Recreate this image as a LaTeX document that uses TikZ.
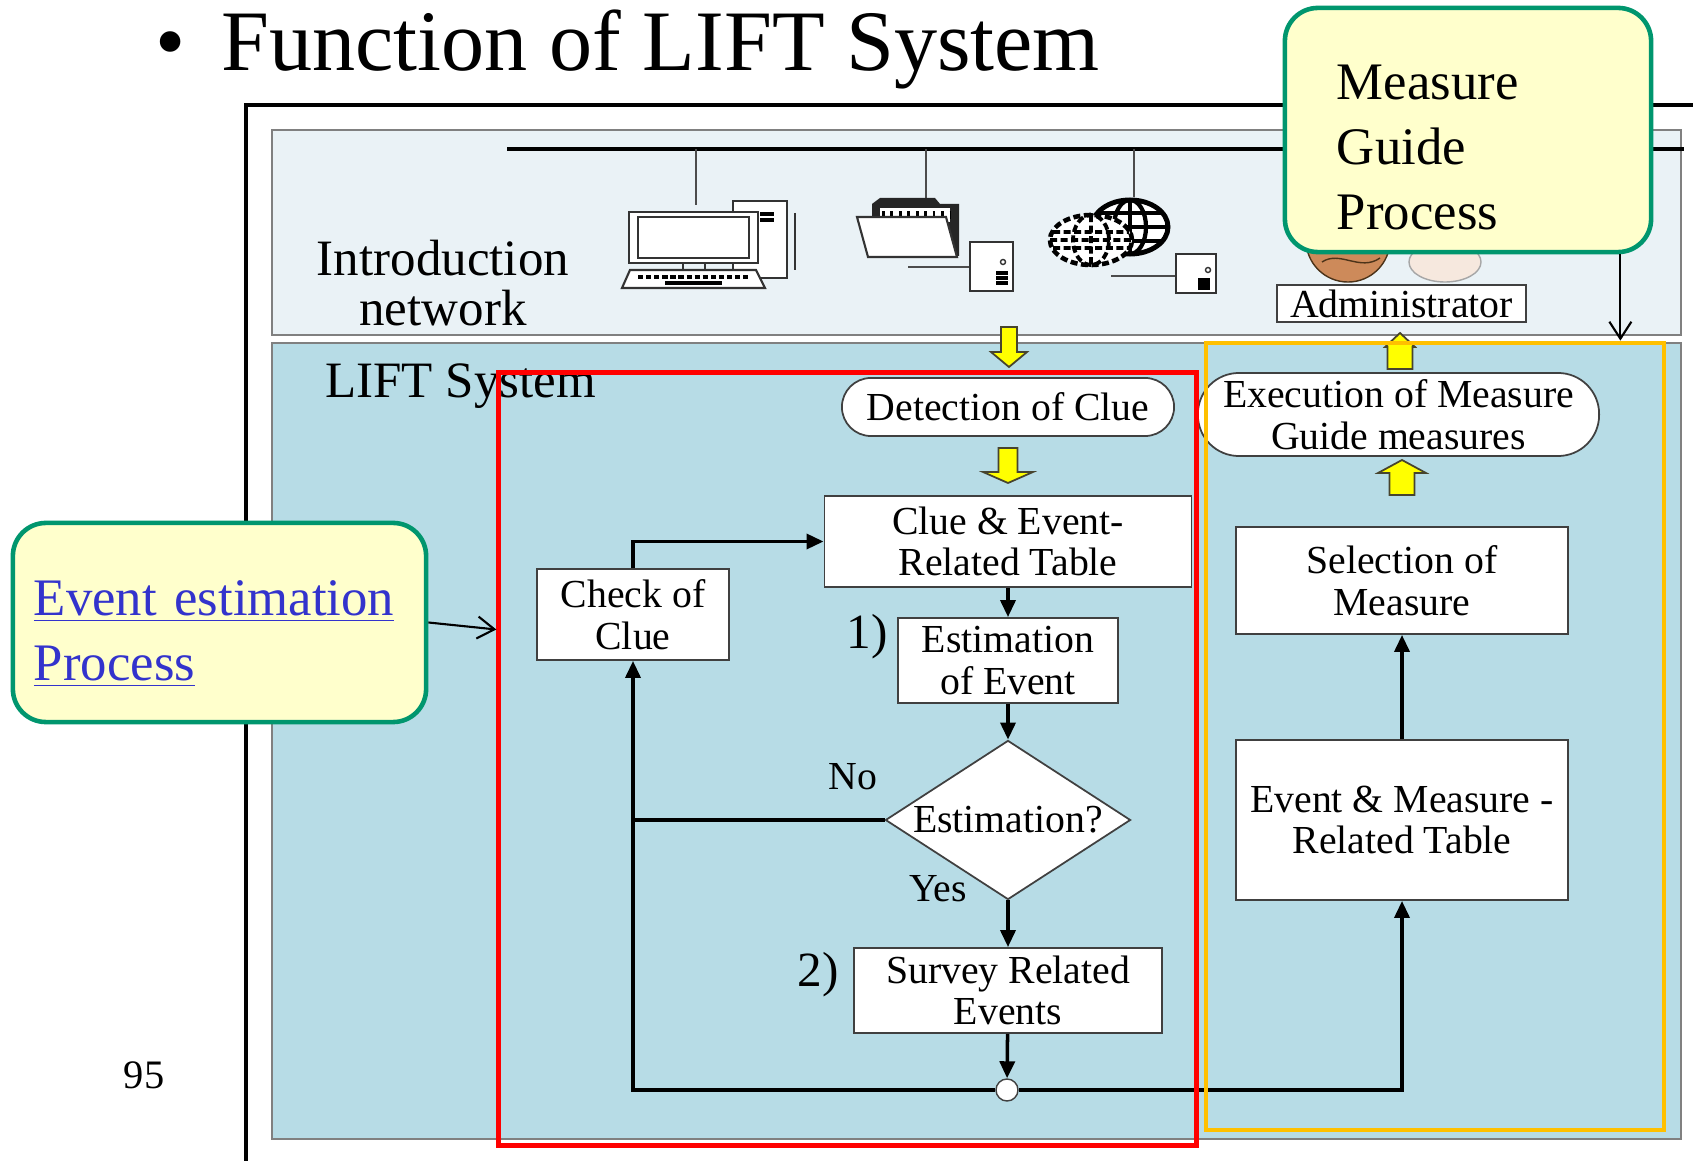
\documentclass[tikz,border=0pt]{standalone}
\usepackage{fontspec}
\setmainfont{Liberation Serif}
\usetikzlibrary{shapes.geometric,arrows.meta,positioning}

\definecolor{netpanel}{RGB}{234,242,246}
\definecolor{liftpanel}{RGB}{183,220,230}
\definecolor{notefill}{RGB}{255,255,204}
\definecolor{noteedge}{RGB}{0,150,110}
\definecolor{linkblue}{RGB}{51,51,204}
\definecolor{frameorange}{RGB}{255,192,0}
\definecolor{blockyellow}{RGB}{255,255,0}
\definecolor{skin}{RGB}{205,138,90}
\definecolor{paleskin}{RGB}{246,232,222}

\newcommand{\boxfont}{\fontsize{11.3}{11.8}\selectfont}
\newcommand{\labelfont}{\fontsize{14.5}{14.3}\selectfont}

% yellow block arrows: x, top, bottom, shaft half width, head half width, head length
\newcommand{\yellowdown}[6]{%
  \draw[blockarrow] ({#1-#4},#2) -- ({#1+#4},#2) -- ({#1+#4},{#3-#6}) -- ({#1+#5},{#3-#6})
    -- (#1,#3) -- ({#1-#5},{#3-#6}) -- ({#1-#4},{#3-#6}) -- cycle;}
\newcommand{\yellowup}[6]{%
  \draw[blockarrow] (#1,#2) -- ({#1+#5},{#2+#6}) -- ({#1+#4},{#2+#6}) -- ({#1+#4},#3)
    -- ({#1-#4},#3) -- ({#1-#4},{#2+#6}) -- ({#1-#5},{#2+#6}) -- cycle;}

\begin{document}
\begin{tikzpicture}[x=0.01cm,y=-0.01cm,
    flowbox/.style={draw=black!75, fill=white, line width=0.5pt, align=center, inner sep=0pt, font=\boxfont},
    note/.style={draw=noteedge, fill=notefill, line width=1.3pt, rounded corners=0.33cm, align=left,
      inner sep=0pt, font=\fontsize{15}{18.5}\selectfont},
    flow/.style={line width=1pt, -{Triangle[length=0.17cm,width=0.15cm]}},
    link/.style={line width=1pt},
    pointer/.style={line width=0.6pt, -{Straight Barb[length=0.17cm,width=0.22cm]}},
    blockarrow/.style={draw=black!65!olive, fill=blockyellow, line width=0.5pt},
    icon/.style={draw=black!80, fill=white, line width=0.6pt},
    panel/.style={draw=black!50, line width=0.8pt}]
\useasboundingbox[fill=white] (0,0) rectangle (1693,1161);

\node[font=\fontsize{24.5}{24.5}\selectfont, anchor=base west] (title) at (143,71)
  {\textbullet\hspace{0.36cm}Function of LIFT System};
\node[font=\fontsize{11.5}{11.5}\selectfont, anchor=base] (pagenum) at (144,1088) {95};

\draw[line width=1.2pt] (246,1161) -- (246,105) -- (1693,105);

% network panel
\draw[panel, fill=netpanel] (272,130) rectangle (1681,335);
\node[font=\labelfont, align=center] (netlabel) at (443,283) {Introduction\\network};
\draw[line width=1.3pt] (507,149) -- (1684,149);
\draw[black!70, line width=0.5pt] (696,149) -- (696,205) (926,149) -- (926,200) (1134,149) -- (1134,197);

% computer
\draw[icon] (733,201) rectangle (787,278);
\draw[line width=1pt] (760,214) -- (774,214) (760,220) -- (774,220);
\draw[black!80, line width=0.6pt] (795,213) -- (795,270);
\draw[icon] (629,212) rectangle (758,263);
\draw[black!80] (638,217) rectangle (749,258);
\draw[black!80] (683,263) -- (683,270) (705,263) -- (705,270);
\draw[icon] (630,270) -- (756,270) -- (765,288) -- (622,288) -- cycle;
\draw[dash pattern=on 1.5pt off 0.8pt, line width=1.3pt] (638,277) -- (750,277);
\draw[line width=1.3pt] (665,283) -- (722,283);

% folder and its server
\fill[black!85] (872,204) -- (880,198) -- (935,198) -- (940,204) -- (959,204) -- (959,256) -- (872,256) -- cycle;
\fill[white] (880,208) rectangle (950,222);
\draw[dash pattern=on 0.8pt off 1.6pt, line width=2.2pt] (882,215) -- (950,215);
\draw[icon] (857,217) -- (946,217) -- (957,257) -- (868,257) -- cycle;
\draw[black!70] (908,267) -- (970,267);
\draw[icon] (970,242) rectangle (1013,291);
\draw[black!80] (1003,262) circle[radius=0.025cm];
\draw[line width=1.1pt] (996,273) -- (1008,273) (996,278) -- (1008,278) (996,283) -- (1008,283);

% globes and their server
\draw[fill=white, line width=1.4pt] (1130,227) circle[x radius=0.38cm, y radius=0.27cm];
\draw[line width=1.2pt] (1130,227) circle[x radius=0.16cm, y radius=0.27cm];
\draw[line width=1.2pt] (1130,200) -- (1130,254) (1092,227) -- (1168,227)
  (1097,213) -- (1163,213) (1097,241) -- (1163,241);
\draw[fill=white, line width=1.3pt, dash pattern=on 2pt off 1pt] (1091,240) circle[x radius=0.41cm, y radius=0.25cm];
\draw[line width=1.1pt, dash pattern=on 2pt off 1pt] (1091,240) circle[x radius=0.18cm, y radius=0.25cm]
  (1091,215) -- (1091,265) (1053,232) -- (1129,232) (1050,240) -- (1132,240) (1053,248) -- (1129,248);
\draw[black!70] (1111,276) -- (1176,276);
\draw[icon] (1176,254) rectangle (1216,293);
\draw[black!80] (1208,270) circle[radius=0.025cm];
\draw[line width=1.1pt] (1198,280) -- (1210,280) (1198,284) -- (1210,284) (1198,288) -- (1210,288);

% administrator
\draw[fill=skin, draw=black!60!brown] (1348,240) circle[radius=0.42cm];
\draw[draw=black!60!brown] (1322,262) .. controls (1340,250) and (1360,272) .. (1380,258);
\draw[fill=paleskin, draw=black!35] (1445,262) circle[x radius=0.36cm, y radius=0.2cm];
\node[flowbox, minimum width=2.49cm, minimum height=0.37cm] (admin) at (1401.5,303.5) {Administrator};

% LIFT panel
\draw[panel, fill=liftpanel] (272,343) rectangle (1681,1139);
\node[font=\labelfont, anchor=base west] (liftlabel) at (313,398) {LIFT System};

\node[flowbox, minimum width=3.32cm, minimum height=0.58cm, rounded corners=0.29cm] (detect) at (1008,407) {Detection of Clue};
\node[flowbox, minimum width=3.67cm, minimum height=0.91cm] (cluetab) at (1008,541.5) {Clue \& Event-\\Related Table};
\node[flowbox, minimum width=1.92cm, minimum height=0.91cm] (check) at (633,614.5) {Check of\\Clue};
\node[flowbox, minimum width=2.20cm, minimum height=0.85cm] (estev) at (1008,660.5) {Estimation\\of Event};
\node[flowbox, diamond, aspect=1.55, minimum width=2.45cm, minimum height=1.59cm] (decide) at (1008,820) {Estimation?};
\node[flowbox, minimum width=3.08cm, minimum height=0.85cm] (survey) at (1008,990.5) {Survey Related\\Events};
\node[circle, draw=black!75, fill=white, minimum size=0.22cm, inner sep=0pt] (junc) at (1007,1090) {};

\node[flowbox, minimum width=4.01cm, minimum height=0.83cm, rounded corners=0.41cm] (exec) at (1398.5,414.5) {Execution of Measure\\Guide measures};
\node[flowbox, minimum width=3.32cm, minimum height=1.07cm] (select) at (1402,580.5) {Selection of\\Measure};
\node[flowbox, minimum width=3.32cm, minimum height=1.60cm] (emtab) at (1402,820) {Event \& Measure -\\Related Table};

\node[font=\boxfont] (nolabel) at (853,777) {No};
\node[font=\boxfont] (yeslabel) at (938,889) {Yes};
\node[font=\fontsize{14}{14}\selectfont] (stepone) at (867,637) {1)};
\node[font=\fontsize{14}{14}\selectfont] (steptwo) at (818,975) {2)};

\draw[flow] (check.north) |- (cluetab.west);
\draw[flow] (cluetab) -- (estev);
\draw[flow] (estev) -- (decide);
\draw[flow] (decide) -- (survey);
\draw[flow] (survey) -- (junc);
\draw[link] (decide.west) -- (decide.west -| check.south);
\draw[flow] (junc.west) -| (check.south);
\draw[flow] (junc.east) -| (emtab.south);
\draw[flow] (emtab) -- (select);

\yellowdown{1009}{327}{367}{8}{18}{15}
\yellowdown{1008}{448}{483}{9.5}{25}{11}
\yellowup{1400}{333}{369}{12.5}{15}{14}
\yellowup{1402}{460}{495}{12.5}{24}{13}

% process frames
\node[draw=red, line width=1.4pt, minimum width=6.97cm, minimum height=7.72cm, inner sep=0pt] (redframe) at (847.5,759) {};
\node[draw=frameorange, line width=1.2pt, minimum width=4.58cm, minimum height=7.87cm, inner sep=0pt] (orangeframe) at (1435,736.5) {};

% callouts
\node[note, minimum width=3.66cm, minimum height=2.44cm, text width=2.62cm] (mgp) at (1468,130)
  {\rule{0pt}{0.7cm}Measure\\Guide\\Process};
\node[note, minimum width=4.13cm, minimum height=1.99cm, text width=3.71cm, text=linkblue] (evp) at (219.5,622.5)
  {\rule{0pt}{0.58cm}\underline{Event estimation}\\\underline{Process}};

\draw[pointer] ([xshift=-0.33cm]mgp.south east) -- ([xshift=-0.33cm]mgp.south east |- orangeframe.north);
\draw[pointer] (evp.east) -- ([yshift=-0.07cm]evp.east -| redframe.west);
\end{tikzpicture}
\end{document}
